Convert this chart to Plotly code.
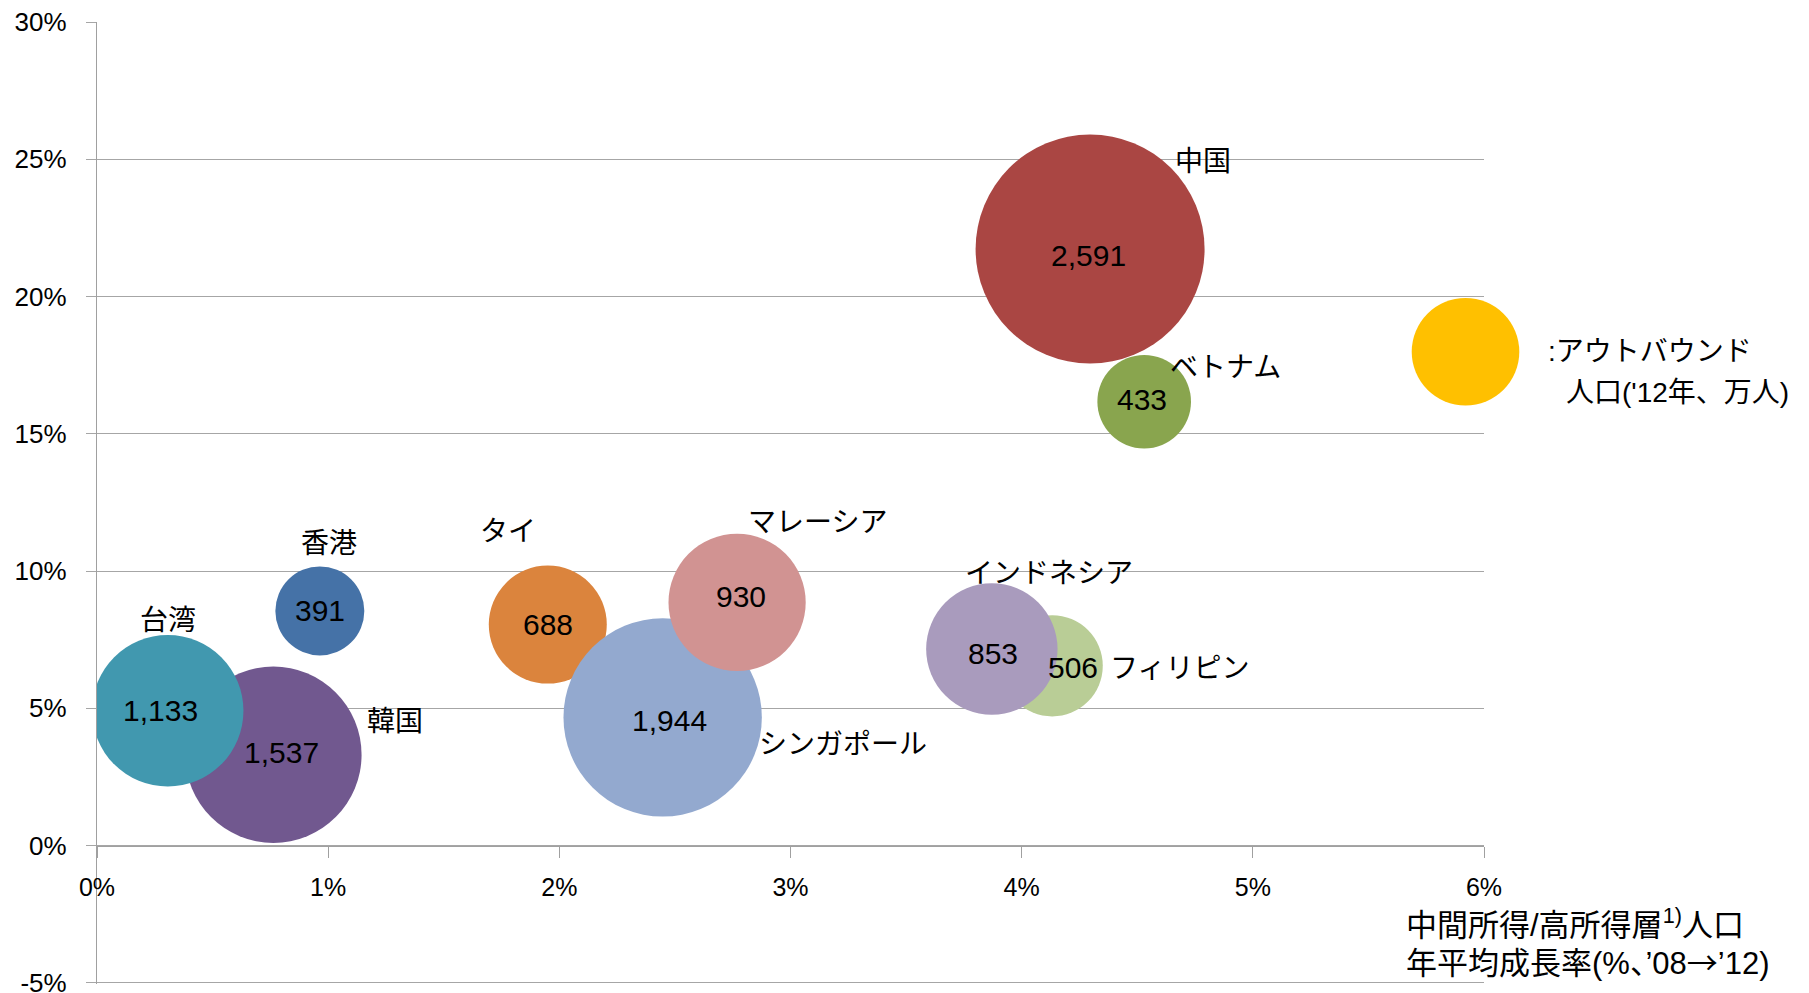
import plotly.graph_objects as go

# ---- data ----
countries = ["韓国", "台湾", "香港", "タイ", "シンガポール", "マレーシア",
             "フィリピン", "インドネシア", "中国", "ベトナム"]
growth_rate = [0.763, 0.306, 0.964, 1.950, 2.447, 2.769, 4.132, 3.871, 4.296, 4.530]   # x, %
income_growth = [3.31, 4.91, 8.55, 8.05, 4.67, 8.86, 6.55, 7.16, 21.73, 16.17]         # y, %
outbound = [1537, 1133, 391, 688, 1944, 930, 506, 853, 2591, 433]                       # bubble size
legend_x = [5.92]
legend_y = [17.99]
legend_size = [572]

x_ticks = [0, 1, 2, 3, 4, 5, 6]
y_ticks = [-5, 0, 5, 10, 15, 20, 25, 30]

# ---- styles ----
colors = ["#71588F", "#4198AF", "#4572A7", "#DB843D", "#93A9CF", "#D19392",
          "#B9CD96", "#A99BBD", "#AA4643", "#89A54E"]
name_shift = [(122, 36), (0, 93), (9, 70), (-40, 96), (180, -25), (80, 82),
              (127, 0), (57, 78), (113, 90), (81, 37)]
value_shift = [(8, 2), (-7, 0), (0, 0), (0, 0), (7, -3), (4, 6),
               (21, -2), (1, -4), (-2, -6), (-2, 2)]

LATIN = "Liberation Sans, Arial, sans-serif"
CJK = "Noto Sans CJK JP, Liberation Sans, sans-serif"
MIXED = "Liberation Sans, Noto Sans CJK JP, sans-serif"

max_diam = 229.0
sizeref = 2.0 * max(outbound) / max_diam ** 2

fig = go.Figure()
fig.add_trace(go.Scatter(
    x=growth_rate, y=income_growth, mode="markers",
    marker=dict(size=outbound, sizemode="area", sizeref=sizeref, sizemin=0,
                color=colors, opacity=1, line=dict(width=0)),
    cliponaxis=True, hoverinfo="skip", showlegend=False))
fig.add_trace(go.Scatter(
    x=legend_x, y=legend_y, mode="markers",
    marker=dict(size=legend_size, sizemode="area", sizeref=sizeref, sizemin=0,
                color="#FFC000", opacity=1, line=dict(width=0)),
    cliponaxis=False, hoverinfo="skip", showlegend=False))

annotations = []
for i, c in enumerate(countries):
    annotations.append(dict(
        x=growth_rate[i], y=income_growth[i], xref="x", yref="y",
        text=f"{outbound[i]:,}", showarrow=False,
        xanchor="center", yanchor="middle",
        xshift=value_shift[i][0], yshift=value_shift[i][1],
        font=dict(family=LATIN, size=30, color="#000000")))
    annotations.append(dict(
        x=growth_rate[i], y=income_growth[i], xref="x", yref="y",
        text=c, showarrow=False, xanchor="center", yanchor="middle",
        xshift=name_shift[i][0], yshift=name_shift[i][1],
        font=dict(family=CJK, size=28, color="#000000")))

# legend text next to the yellow bubble
annotations.append(dict(x=legend_x[0], y=legend_y[0], xref="x", yref="y",
                        text=":アウトバウンド", showarrow=False,
                        xanchor="left", yanchor="middle", xshift=80, yshift=0,
                        font=dict(family=MIXED, size=28, color="#000000")))
annotations.append(dict(x=legend_x[0], y=legend_y[0], xref="x", yref="y",
                        text="人口('12年、万人)", showarrow=False,
                        xanchor="left", yanchor="middle", xshift=98, yshift=-41,
                        font=dict(family=MIXED, size=28, color="#000000")))

# x axis title (two lines)
annotations.append(dict(x=6, y=0, xref="x", yref="y",
                        text="中間所得/高所得層<sup>1)</sup>人口", showarrow=False,
                        xanchor="left", yanchor="middle", xshift=-80, yshift=-77,
                        font=dict(family=MIXED, size=31, color="#000000")))
annotations.append(dict(x=6, y=0, xref="x", yref="y",
                        text="年平均成長率(%、’08<span style=\"font-family:Noto Sans CJK JP\">→</span>’12)",
                        showarrow=False,
                        xanchor="left", yanchor="middle", xshift=-80, yshift=-115,
                        font=dict(family=MIXED, size=31, color="#000000")))

fig.update_layout(
    width=1809, height=993, autosize=False,
    margin=dict(l=97, r=325, t=22, b=9, pad=0),
    paper_bgcolor="#ffffff", plot_bgcolor="#ffffff",
    annotations=annotations,
    xaxis=dict(range=[0, 6], tickvals=x_ticks,
               ticktext=[f"{v}%" for v in x_ticks],
               anchor="free", position=5.04 / 35.04,
               showgrid=False, zeroline=False,
               showline=True, linecolor="#a0a0a0", linewidth=1.3,
               ticks="outside", ticklen=11, tickwidth=1.3, tickcolor="#a0a0a0",
               ticklabelstandoff=8,
               tickfont=dict(family=LATIN, size=25, color="#000000"),
               automargin=False, fixedrange=True),
    yaxis=dict(range=[-5.04, 30], tickvals=y_ticks,
               ticktext=[f"{v}%" for v in y_ticks],
               showgrid=True, gridcolor="#a6a6a6", gridwidth=1.3,
               zeroline=False,
               showline=True, linecolor="#a0a0a0", linewidth=1.3,
               ticks="outside", ticklen=10, tickwidth=1.3, tickcolor="#a6a6a6",
               ticklabelstandoff=14, ticklabeloverflow="allow",
               tickfont=dict(family=LATIN, size=26, color="#000000"),
               automargin=False, fixedrange=True),
)

fig.write_html("out.html", config={"displayModeBar": False})
